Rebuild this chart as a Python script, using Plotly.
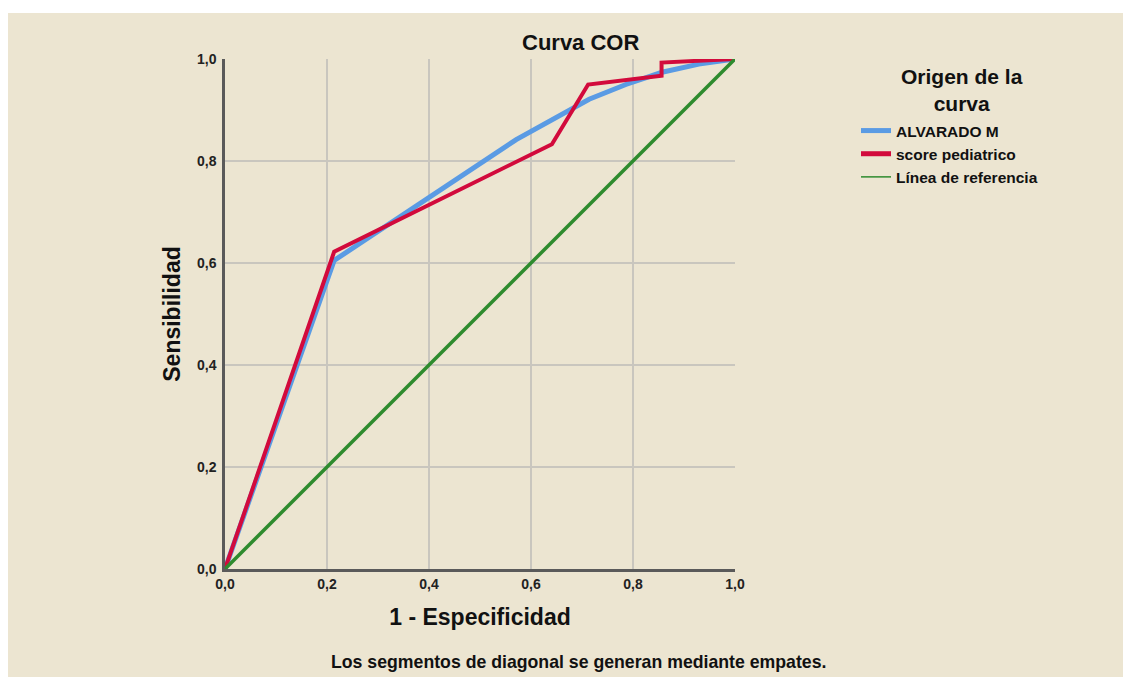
import plotly.graph_objects as go

# Data
alvarado_x = [0.0, 0.214, 0.571, 0.714, 0.786, 0.857, 0.929, 1.0]
alvarado_y = [0.0, 0.605, 0.842, 0.921, 0.950, 0.974, 0.990, 1.0]

pediatrico_x = [0.0, 0.214, 0.641, 0.712, 0.856, 0.856, 1.0]
pediatrico_y = [0.0, 0.622, 0.833, 0.950, 0.967, 0.993, 1.0]

ref_x = [0.0, 1.0]
ref_y = [0.0, 1.0]

tick_vals = [0.0, 0.2, 0.4, 0.6, 0.8, 1.0]

BLUE = "#5A9BE4"
RED = "#D20A3C"
GREEN = "#2E8B2E"
BEIGE = "#ECE5D1"
FONT = "Liberation Sans"

OFF = 8  # page body margin
W, H = 1131 - OFF, 678 - OFF
L, T = 225 - OFF, 59 - OFF
PW = PH = 510
R = W - L - PW
B = H - T - PH


def px_x(px):
    """absolute screen pixel -> paper x"""
    return (px - OFF - L) / PW


def px_y(py):
    """absolute screen pixel -> paper y"""
    return (T + PH - (py - OFF)) / PH


fig = go.Figure()

fig.add_trace(go.Scatter(x=alvarado_x, y=alvarado_y, mode="lines",
                         line=dict(color=BLUE, width=5), name="ALVARADO M",
                         showlegend=False, hoverinfo="skip"))
fig.add_trace(go.Scatter(x=pediatrico_x, y=pediatrico_y, mode="lines",
                         line=dict(color=RED, width=4), name="score pediatrico",
                         showlegend=False, hoverinfo="skip"))
fig.add_trace(go.Scatter(x=ref_x, y=ref_y, mode="lines",
                         line=dict(color=GREEN, width=3.5), name="Línea de referencia",
                         showlegend=False, hoverinfo="skip"))

# legend entries (thin reference line in the legend as in the original)
fig.add_trace(go.Scatter(x=[None], y=[None], mode="lines",
                         line=dict(color=BLUE, width=5), name="ALVARADO M"))
fig.add_trace(go.Scatter(x=[None], y=[None], mode="lines",
                         line=dict(color=RED, width=5), name="score pediatrico"))
fig.add_trace(go.Scatter(x=[None], y=[None], mode="lines",
                         line=dict(color=GREEN, width=1.5), name="Línea de referencia"))

axis_common = dict(
    range=[0, 1],
    tickvals=tick_vals,
    tickformat=".1f",
    showgrid=True,
    gridcolor="#C9C6BE",
    gridwidth=2,
    showline=True,
    linecolor="#5A5A5A",
    linewidth=2.5,
    zeroline=False,
    ticks="",
    tickfont=dict(family=FONT, size=14, color="#222", weight="bold"),
    fixedrange=True,
)

fig.update_xaxes(**axis_common,
                 title=dict(text="1 - Especificidad",
                            font=dict(family=FONT, size=23, color="#111", weight="bold"),
                            standoff=19))
fig.update_yaxes(**axis_common, ticklabelstandoff=3,
                 title=dict(text="Sensibilidad",
                            font=dict(family=FONT, size=23, color="#111", weight="bold"),
                            standoff=10))

fig.update_layout(
    width=W, height=H,
    margin=dict(l=L, r=R, t=T, b=B, pad=0),
    paper_bgcolor="white",
    plot_bgcolor="rgba(0,0,0,0)",
    separators=",.",
    font=dict(family=FONT, color="#111"),
    showlegend=True,
    legend=dict(
        x=px_x(856), y=px_y(114),
        xanchor="left", yanchor="top",
        bgcolor="rgba(0,0,0,0)",
        font=dict(family=FONT, size=15.5, color="#111", weight="bold"),
        tracegroupgap=0,
        itemwidth=30,
    ),
    shapes=[dict(type="rect", xref="paper", yref="paper", layer="below",
                 x0=px_x(7), x1=px_x(1140),
                 y0=px_y(677), y1=px_y(13),
                 fillcolor=BEIGE, line=dict(width=0))],
    annotations=[
        dict(text="Curva COR", xref="paper", yref="paper",
             x=px_x(580), y=px_y(43),
             xanchor="center", yanchor="middle", showarrow=False,
             font=dict(family=FONT, size=22, color="#111", weight="bold")),
        dict(text="Origen de la<br>curva", xref="paper", yref="paper",
             x=px_x(962), y=px_y(90),
             xanchor="center", yanchor="middle", align="center", showarrow=False,
             font=dict(family=FONT, size=21, color="#111", weight="bold")),
        dict(text="Los segmentos de diagonal se generan mediante empates.",
             xref="paper", yref="paper",
             x=px_x(578), y=px_y(662),
             xanchor="center", yanchor="middle", showarrow=False,
             font=dict(family=FONT, size=17.7, color="#111", weight="bold")),
    ],
)

fig.write_html("out.html")
